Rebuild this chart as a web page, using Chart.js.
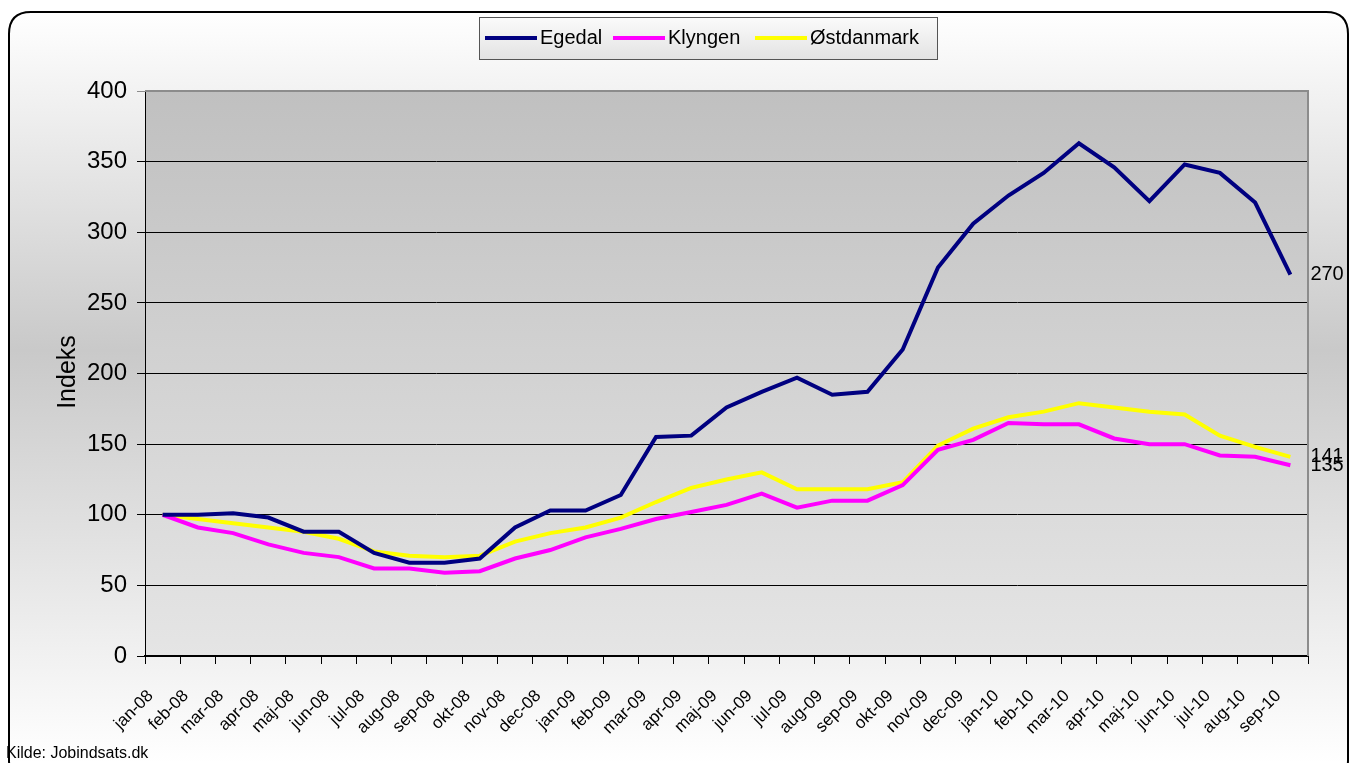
<!DOCTYPE html>
<html>
<head>
<meta charset="utf-8">
<script src="https://cdn.jsdelivr.net/npm/chart.js@4.4.1/dist/chart.umd.min.js"></script>
<style>
  html, body { margin: 0; padding: 0; background: #fff; }
  #c { display: block; }
</style>
</head>
<body>
<canvas id="c" width="1349" height="763"></canvas>
<script>
const categories = ['jan-08','feb-08','mar-08','apr-08','maj-08','jun-08','jul-08','aug-08','sep-08','okt-08','nov-08','dec-08',
  'jan-09','feb-09','mar-09','apr-09','maj-09','jun-09','jul-09','aug-09','sep-09','okt-09','nov-09','dec-09',
  'jan-10','feb-10','mar-10','apr-10','maj-10','jun-10','jul-10','aug-10','sep-10'];
const egedal = [100,100,101,98,88,88,73,66,66,69,91,103,103,114,155,156,176,187,197,185,187,217,275,306,326,342,363,346,322,348,342,321,270];
const klyngen = [100,91,87,79,73,70,62,62,59,60,69,75,84,90,97,102,107,115,105,110,110,121,146,153,165,164,164,154,150,150,142,141,135];
const ostdanmark = [100,97,94,91,88,83,74,71,70,71,81,87,91,98,109,119,125,130,118,118,118,123,149,161,169,173,179,176,173,171,156,148,141];
const seriesNames = ['Egedal','Klyngen','Østdanmark'];
const seriesColors = ['#000080','#ff00ff','#ffff00'];
const yTicks = [0,50,100,150,200,250,300,350,400];
const yTitle = 'Indeks';
const sourceText = 'Kilde: Jobindsats.dk';

const FONT = '"Liberation Sans", Arial, sans-serif';

function roundRect(ctx, x, y, w, h, r) {
  ctx.beginPath();
  ctx.moveTo(x + r, y);
  ctx.lineTo(x + w - r, y);
  ctx.quadraticCurveTo(x + w, y, x + w, y + r);
  ctx.lineTo(x + w, y + h - r);
  ctx.quadraticCurveTo(x + w, y + h, x + w - r, y + h);
  ctx.lineTo(x + r, y + h);
  ctx.quadraticCurveTo(x, y + h, x, y + h - r);
  ctx.lineTo(x, y + r);
  ctx.quadraticCurveTo(x, y, x + r, y);
  ctx.closePath();
}

const decorPlugin = {
  id: 'decor',
  beforeDraw(chart) {
    const ctx = chart.ctx;
    const W = chart.width, H = chart.height;
    const a = chart.chartArea;
    ctx.save();
    ctx.fillStyle = '#ffffff';
    ctx.fillRect(0, 0, W, H);
    const g = ctx.createLinearGradient(0, 12, 0, H);
    g.addColorStop(0, '#ffffff');
    g.addColorStop(0.45, '#c9c9c9');
    g.addColorStop(1, '#ffffff');
    roundRect(ctx, 9, 12, 1339, 770, 22);
    ctx.fillStyle = g;
    ctx.fill();
    ctx.lineWidth = 2;
    ctx.strokeStyle = '#000000';
    ctx.stroke();
    const pg = ctx.createLinearGradient(0, a.top, 0, a.bottom);
    pg.addColorStop(0, '#c0c0c0');
    pg.addColorStop(1, '#e5e5e5');
    ctx.fillStyle = pg;
    ctx.fillRect(a.left, a.top, a.right - a.left, a.bottom - a.top);
    ctx.restore();
  },
  afterDraw(chart) {
    const ctx = chart.ctx;
    const a = chart.chartArea;
    ctx.save();
    ctx.strokeStyle = '#8c8c8c';
    ctx.lineWidth = 2;
    ctx.beginPath();
    ctx.moveTo(a.left, a.top);
    ctx.lineTo(a.right, a.top);
    ctx.lineTo(a.right, a.bottom);
    ctx.stroke();

    ctx.fillStyle = '#000';
    ctx.font = '20px ' + FONT;
    ctx.textBaseline = 'middle';
    ctx.textAlign = 'left';
    chart.data.datasets.forEach((ds, i) => {
      const meta = chart.getDatasetMeta(i);
      const last = meta.data[meta.data.length - 1];
      ctx.fillText(String(ds.data[ds.data.length - 1]), last.x + 20, last.y);
    });

    ctx.save();
    ctx.translate(68, 372);
    ctx.rotate(-Math.PI / 2);
    ctx.font = '25px ' + FONT;
    ctx.textAlign = 'center';
    ctx.textBaseline = 'middle';
    ctx.fillText(yTitle, 0, 0);
    ctx.restore();

    const lx = 479, ly = 17, lw = 458, lh = 42;
    const lg = ctx.createLinearGradient(0, ly, 0, ly + lh);
    lg.addColorStop(0, '#fbfbfb');
    lg.addColorStop(1, '#e3e3e3');
    ctx.fillStyle = lg;
    ctx.fillRect(lx, ly, lw, lh);
    ctx.strokeStyle = '#555';
    ctx.lineWidth = 1;
    ctx.strokeRect(lx + 0.5, ly + 0.5, lw, lh);
    const itemX = [485, 613, 755];
    ctx.font = '20px ' + FONT;
    ctx.textBaseline = 'middle';
    ctx.textAlign = 'left';
    seriesNames.forEach((n, i) => {
      ctx.strokeStyle = seriesColors[i];
      ctx.lineWidth = 4;
      ctx.beginPath();
      ctx.moveTo(itemX[i], 38);
      ctx.lineTo(itemX[i] + 52, 38);
      ctx.stroke();
      ctx.fillStyle = '#000';
      ctx.fillText(n, itemX[i] + 55, 38);
    });

    ctx.font = '16px ' + FONT;
    ctx.textBaseline = 'alphabetic';
    ctx.fillStyle = '#000';
    ctx.fillText(sourceText, 6, 758);
    ctx.restore();
  }
};

new Chart(document.getElementById('c'), {
  type: 'line',
  data: {
    labels: categories,
    datasets: [egedal, klyngen, ostdanmark].map((d, i) => ({
      label: seriesNames[i],
      data: d,
      borderColor: seriesColors[i],
      backgroundColor: seriesColors[i],
      borderWidth: 4,
      pointRadius: 0,
      tension: 0,
      fill: false
    }))
  },
  options: {
    responsive: false,
    animation: false,
    devicePixelRatio: 1,
    layout: { padding: { top: 91, right: 41, left: 0, bottom: 0 } },
    plugins: { legend: { display: false }, tooltip: { enabled: false }, title: { display: false } },
    scales: {
      y: {
        min: 0, max: 400,
        afterBuildTicks: s => { s.ticks = yTicks.map(v => ({ value: v })); },
        afterFit: s => { s.width = 145; },
        ticks: { font: { family: FONT, size: 24 }, color: '#000', padding: 10 },
        grid: {
          color: c => (c.tick && c.tick.value === 400) ? '#8c8c8c' : '#000',
          lineWidth: 1, tickLength: 8, drawTicks: true
        },
        border: { color: '#000', width: 1 }
      },
      x: {
        offset: true,
        afterFit: s => { s.height = 107; },
        ticks: { font: { family: FONT, size: 17 }, color: '#000', minRotation: 45, maxRotation: 45, autoSkip: false, padding: 22, labelOffset: -12 },
        grid: { offset: true, drawOnChartArea: false, tickLength: 8, color: '#000', lineWidth: 1 },
        border: { color: '#000', width: 2 }
      }
    }
  },
  plugins: [decorPlugin]
});
</script>
</body>
</html>
